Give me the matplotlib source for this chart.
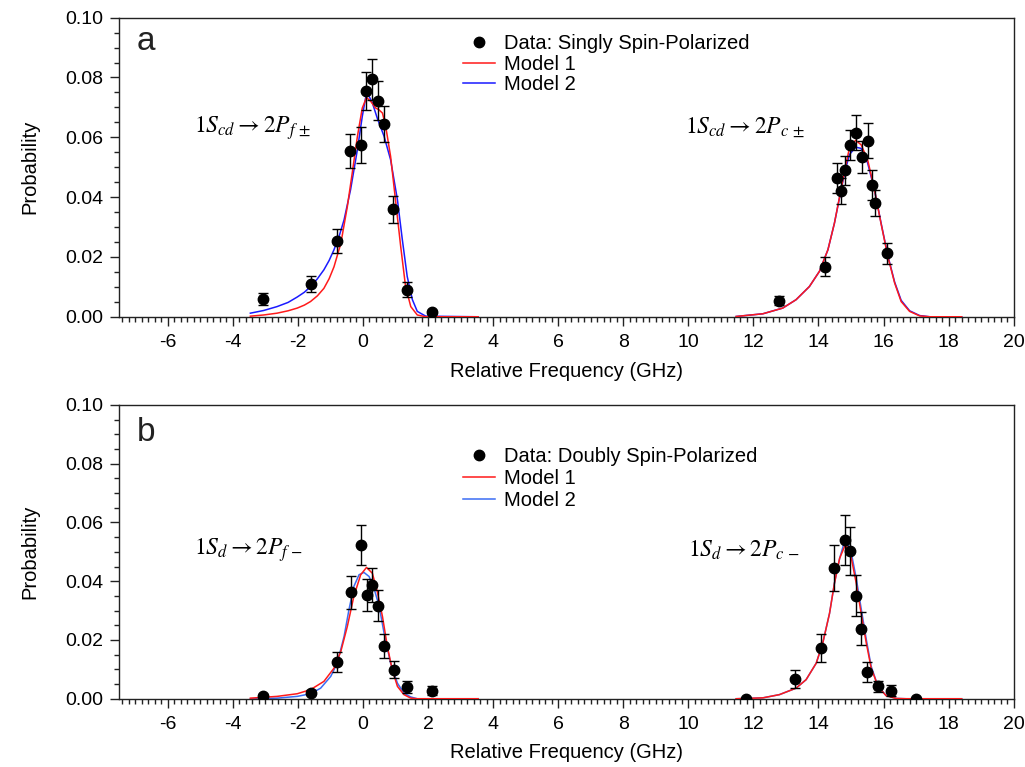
import matplotlib
matplotlib.use("Agg")
import matplotlib.pyplot as plt
from matplotlib.ticker import MultipleLocator, FormatStrFormatter

plt.rcParams['font.family'] = ['Liberation Sans', 'DejaVu Sans']
plt.rcParams['mathtext.fontset'] = 'stix'
plt.rcParams['axes.unicode_minus'] = False

# --- measured line profiles (relative frequency in GHz, probability) ---
# panel a: singly spin-polarized
a_x = [-3.08, -1.59, -0.79, -0.39, -0.07, 0.10, 0.29, 0.47, 0.64, 0.92, 1.35, 2.13,
       12.80, 14.21, 14.56, 14.68, 14.80, 14.96, 15.16, 15.33, 15.53, 15.64, 15.75, 16.11]
a_y = [0.0060, 0.0110, 0.0253, 0.0554, 0.0574, 0.0755, 0.0794, 0.0723, 0.0643, 0.0359, 0.0091, 0.0017,
       0.0054, 0.0168, 0.0463, 0.0421, 0.0489, 0.0575, 0.0616, 0.0533, 0.0589, 0.0440, 0.0380, 0.0212]
a_err = [0.0019, 0.0026, 0.0039, 0.0058, 0.0061, 0.0064, 0.0068, 0.0064, 0.0060, 0.0045, 0.0024, 0.0007,
         0.0016, 0.0031, 0.0050, 0.0043, 0.0050, 0.0051, 0.0058, 0.0053, 0.0058, 0.0049, 0.0043, 0.0035]

# panel b: doubly spin-polarized
b_x = [-3.08, -1.59, -0.79, -0.38, -0.05, 0.11, 0.28, 0.46, 0.64, 0.94, 1.35, 2.13,
       11.78, 13.28, 14.08, 14.47, 14.80, 14.96, 15.14, 15.31, 15.50, 15.83, 16.22, 17.00]
b_y = [0.0010, 0.0021, 0.0124, 0.0363, 0.0522, 0.0354, 0.0388, 0.0317, 0.0178, 0.0099, 0.0039, 0.0028,
       0.0000, 0.0067, 0.0172, 0.0444, 0.0540, 0.0503, 0.0351, 0.0238, 0.0091, 0.0042, 0.0027, 0.0000]
b_err = [0.0005, 0.0008, 0.0034, 0.0056, 0.0068, 0.0055, 0.0057, 0.0054, 0.0041, 0.0030, 0.0021, 0.0015,
         0.0003, 0.0031, 0.0048, 0.0078, 0.0084, 0.0082, 0.0069, 0.0056, 0.0035, 0.0018, 0.0019, 0.0003]

# --- model curves ---
a_m1_fx = [-3.46, -3.05, -2.64, -2.30, -2.02, -1.80, -1.61, -1.40, -1.20, -1.04, -0.89, -0.68, -0.48,
           -0.33, -0.17, -0.02, 0.11, 0.24, 0.39, 0.49, 0.60, 0.70, 0.85, 1.00, 1.16, 1.31, 1.47, 1.67,
           1.93, 3.54]
a_m1_fy = [0.0002, 0.0006, 0.0012, 0.0020, 0.0029, 0.0039, 0.0051, 0.0070, 0.0095, 0.0127, 0.0167, 0.0245,
           0.0368, 0.0480, 0.0603, 0.0698, 0.0733, 0.0720, 0.0698, 0.0692, 0.0681, 0.0636, 0.0536, 0.0391,
           0.0235, 0.0101, 0.0034, 0.0006, 0.0, 0.0]
a_m2_fx = [-3.46, -3.05, -2.64, -2.30, -2.02, -1.80, -1.61, -1.40, -1.20, -1.04, -0.89, -0.73, -0.58,
           -0.38, -0.17, -0.02, 0.08, 0.15, 0.29, 0.44, 0.65, 0.85, 1.06, 1.21, 1.36, 1.52, 1.67, 1.93,
           3.54]
a_m2_fy = [0.0012, 0.0021, 0.0034, 0.0048, 0.0066, 0.0082, 0.0101, 0.0127, 0.0157, 0.0188, 0.0224, 0.0270,
           0.0324, 0.0425, 0.0559, 0.0670, 0.0731, 0.0745, 0.0715, 0.0664, 0.0603, 0.0525, 0.0391, 0.0258,
           0.0135, 0.0057, 0.0018, 0.0002, 0.0]

a_m1_cx = [11.47, 12.29, 12.90, 13.31, 13.72, 14.03, 14.29, 14.49, 14.65, 14.80, 14.95, 15.14, 15.31,
           15.51, 15.72, 15.92, 16.13, 16.34, 16.54, 16.80, 17.11, 17.42, 18.40]
a_m1_cy = [0.0001, 0.0010, 0.0029, 0.0057, 0.0101, 0.0152, 0.0224, 0.0313, 0.0402, 0.0486, 0.0564, 0.0590,
           0.0575, 0.0525, 0.0425, 0.0313, 0.0202, 0.0113, 0.0051, 0.0018, 0.0003, 0.0, 0.0]
a_m2_cx = a_m1_cx
a_m2_cy = [0.0001, 0.0010, 0.0029, 0.0057, 0.0101, 0.0152, 0.0224, 0.0313, 0.0400, 0.0480, 0.0542, 0.0567,
           0.0563, 0.0514, 0.0425, 0.0315, 0.0205, 0.0116, 0.0055, 0.0020, 0.0004, 0.0, 0.0]

b_m1_fx = [-3.46, -2.64, -2.02, -1.61, -1.20, -0.89, -0.68, -0.48, -0.28, -0.07, 0.11, 0.29, 0.44,
           0.60, 0.75, 0.90, 1.06, 1.26, 1.47, 1.67, 3.54]
b_m1_fy = [0.0002, 0.0008, 0.0017, 0.0031, 0.0059, 0.0104, 0.0161, 0.0246, 0.0348, 0.0422, 0.0447, 0.0427,
           0.0365, 0.0280, 0.0178, 0.0099, 0.0042, 0.0014, 0.0002, 0.0, 0.0]
b_m2_fx = [-3.46, -2.64, -2.02, -1.61, -1.30, -0.99, -0.79, -0.58, -0.43, -0.28, -0.12, 0.03, 0.19,
           0.34, 0.50, 0.65, 0.85, 1.06, 1.26, 1.47, 1.67, 3.54]
b_m2_fy = [0.0, 0.0002, 0.0008, 0.0017, 0.0036, 0.0076, 0.0121, 0.0212, 0.0303, 0.0382, 0.0422, 0.0430,
           0.0416, 0.0376, 0.0314, 0.0223, 0.0121, 0.0053, 0.0019, 0.0006, 0.0, 0.0]

b_m1_cx = [11.47, 12.29, 12.80, 13.31, 13.62, 13.93, 14.13, 14.34, 14.49, 14.65, 14.80, 14.87, 15.00,
           15.16, 15.31, 15.47, 15.62, 15.83, 16.08, 16.39, 16.70, 18.40]
b_m1_cy = [0.0, 0.0003, 0.0014, 0.0036, 0.0065, 0.0121, 0.0189, 0.0291, 0.0393, 0.0478, 0.0518, 0.0518,
           0.0484, 0.0393, 0.0291, 0.0189, 0.0104, 0.0042, 0.0010, 0.0001, 0.0, 0.0]
b_m2_cx = [11.47, 12.29, 12.80, 13.31, 13.62, 13.93, 14.13, 14.34, 14.49, 14.65, 14.80, 14.85, 15.00,
           15.16, 15.31, 15.47, 15.62, 15.83, 16.08, 16.39, 16.70, 18.40]
b_m2_cy = [0.0, 0.0003, 0.0014, 0.0036, 0.0065, 0.0121, 0.0189, 0.0291, 0.0393, 0.0478, 0.0535, 0.0539,
           0.0501, 0.0410, 0.0308, 0.0201, 0.0110, 0.0042, 0.0011, 0.0001, 0.0, 0.0]

panels = [
    dict(tag='a', x=a_x, y=a_y, err=a_err, data_label='Data: Singly Spin-Polarized',
         m1=[(a_m1_fx, a_m1_fy), (a_m1_cx, a_m1_cy)],
         m2=[(a_m2_fx, a_m2_fy), (a_m2_cx, a_m2_cy)], blue='#1a1aff',
         lines=[(-5.2, 0.063, r'$1S_{cd} \rightarrow 2P_{f\,\pm}$'),
                (9.9, 0.063, r'$1S_{cd} \rightarrow 2P_{c\,\pm}$')],
         rect=[0.116, 0.587, 0.873, 0.390], leg_top=0.945, spacing=0.08, tag_y=0.92),
    dict(tag='b', x=b_x, y=b_y, err=b_err, data_label='Data: Doubly Spin-Polarized',
         m1=[(b_m1_fx, b_m1_fy), (b_m1_cx, b_m1_cy)],
         m2=[(b_m2_fx, b_m2_fy), (b_m2_cx, b_m2_cy)], blue='#3a6cf4',
         lines=[(-5.2, 0.0505, r'$1S_{d} \rightarrow 2P_{f\,-}$'),
                (10.0, 0.0505, r'$1S_{d} \rightarrow 2P_{c\,-}$')],
         rect=[0.116, 0.089, 0.873, 0.383], leg_top=0.857, spacing=0.14, tag_y=0.908),
]

fig = plt.figure(figsize=(10.25, 7.67), dpi=100)

for p in panels:
    ax = fig.add_axes(p['rect'])
    for i, (cx, cy) in enumerate(p['m1']):
        ax.plot(cx, cy, color='#ff1a1a', lw=1.1, label='Model 1' if i == 0 else None, zorder=3)
    for i, (cx, cy) in enumerate(p['m2']):
        ax.plot(cx, cy, color=p['blue'], lw=1.1, label='Model 2' if i == 0 else None, zorder=2)
    ax.errorbar(p['x'], p['y'], yerr=p['err'], fmt='none', ecolor='black',
                elinewidth=1.0, capsize=3.5, capthick=1.0, zorder=4)
    ax.plot(p['x'], p['y'], 'o', color='black', ms=7.5, label=p['data_label'], zorder=5)

    for tx, ty, s in p['lines']:
        ax.text(tx, ty, s, fontsize=17, va='center', ha='left')
    ax.text(0.02, p['tag_y'], p['tag'], transform=ax.transAxes, fontsize=24,
            va='center', ha='left', color='#222222')

    handles, labels = ax.get_legend_handles_labels()
    order = [labels.index(p['data_label']), labels.index('Model 1'), labels.index('Model 2')]
    ax.legend([handles[k] for k in order], [labels[k] for k in order],
              loc='upper left', bbox_to_anchor=(0.385, p['leg_top']), frameon=False,
              fontsize=14.5, handlelength=1.55, handletextpad=0.45, labelspacing=p['spacing'],
              borderpad=0, borderaxespad=0)

    ax.set_xlim(-7.5, 20)
    ax.set_ylim(0, 0.10)
    ax.xaxis.set_major_locator(MultipleLocator(2))
    ax.xaxis.set_minor_locator(MultipleLocator(0.2))
    ax.yaxis.set_major_locator(MultipleLocator(0.02))
    ax.yaxis.set_minor_locator(MultipleLocator(0.005))
    ax.yaxis.set_major_formatter(FormatStrFormatter('%.2f'))
    ax.tick_params(which='major', direction='out', length=6.5, width=1, labelsize=14,
                   color='#222222')
    ax.tick_params(axis='x', which='major', pad=6)
    ax.tick_params(axis='y', which='major', pad=5)
    ax.tick_params(which='minor', direction='out', length=3.6, width=1, color='#222222')
    for sp in ax.spines.values():
        sp.set_linewidth(1.0)
        sp.set_color('#222222')

    ax.set_xlabel('Relative Frequency (GHz)', fontsize=14.5)
    ax.set_ylabel('Probability', fontsize=14.5)
    ax.xaxis.set_label_coords(0.5, -0.15)
    ax.yaxis.set_label_coords(-0.089, 0.5)

fig.savefig('out.png', dpi=100)
